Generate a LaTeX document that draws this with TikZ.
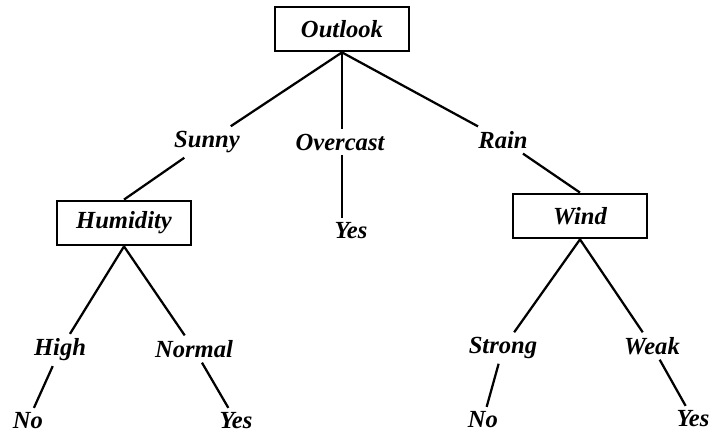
\documentclass[tikz,border=0pt]{standalone}
\usepackage{fontspec}
\setmainfont{Liberation Serif}
\usepackage{tikz}

\begin{document}
\begin{tikzpicture}
        \tikzstyle{every node} = [font=\fontsize{17.5}{20}\selectfont\bfseries\itshape]
        \tikzstyle{attr} = [rectangle, draw, line width=2pt, minimum width=3.35cm, minimum height=1.1cm]
        \tikzstyle{branch} = [line width=1.6pt]
        \useasboundingbox (0,0) rectangle (18.075,-11);
        % attribute tests
        \node[attr] (outlook) at (8.55,-0.725) {Outlook};
        \node[attr] (humidity) at (3.1,-5.575) {Humidity};
        \node[attr] (wind) at (14.5,-5.4) {Wind};
        % values
        \node (sunny) at (5.175,-3.55) {Sunny};
        \node (overcast) at (8.5,-3.55) {Overcast};
        \node (rain) at (12.575,-3.5) {Rain};
        \node (high) at (1.5,-8.75) {High};
        \node (normal) at (4.85,-8.725) {Normal};
        \node (strong) at (12.575,-8.7) {Strong};
        \node (weak) at (16.3,-8.65) {Weak};
        % leaves
        \node (yes0) at (8.775,-5.775) {Yes};
        \node (no1) at (0.7,-10.525) {No};
        \node (yes1) at (5.9,-10.525) {Yes};
        \node (no2) at (12.075,-10.5) {No};
        \node (yes2) at (17.325,-10.475) {Yes};
        \foreach \from/\to in {outlook.south/sunny, outlook.south/rain, sunny/humidity.north, rain/wind.north,
                humidity.south/high, humidity.south/normal, wind.south/strong, wind.south/weak,
                high/no1, normal/yes1, strong/no2, weak/yes2}
            \draw[branch] (\from) -- (\to);
        \draw[branch] (outlook.south) -- (outlook.south |- overcast.north);
        \draw[branch] (outlook.south |- overcast.south) -- (outlook.south |- yes0.north);
    \end{tikzpicture}
\end{document}
